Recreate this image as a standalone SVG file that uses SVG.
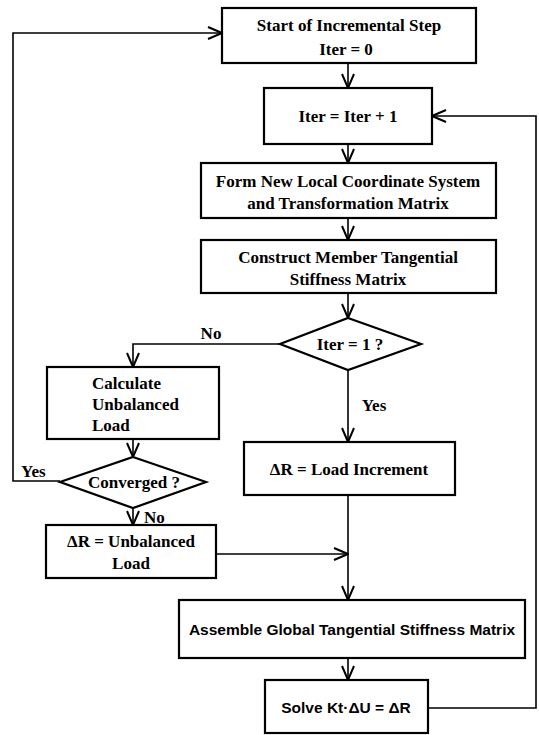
<svg xmlns="http://www.w3.org/2000/svg" width="539" height="735" viewBox="0 0 539 735">
<defs>
<marker id="arr" viewBox="0 0 16 14" refX="15" refY="7" markerWidth="16" markerHeight="14" markerUnits="userSpaceOnUse" orient="auto">
<path d="M1,1 L15,7 L1,13" fill="none" stroke="#000" stroke-width="2"/>
</marker>
<style>
.box{fill:#fff;stroke:#000;stroke-width:2.2}
.ln{fill:none;stroke:#000;stroke-width:1.6}
.t{font-family:"Liberation Serif","Times New Roman",serif;font-weight:bold;font-size:17px;fill:#000;text-anchor:middle}
.s{font-family:"Liberation Sans",Arial,sans-serif;font-weight:bold;font-size:15.5px;fill:#000;text-anchor:middle}
.l{text-anchor:start}
</style>
</defs>
<rect width="539" height="735" fill="#fff"/>
<g id="connectors">
<polyline class="ln" points="60,481 13,481 13,33 222,33" marker-end="url(#arr)"/>
<line class="ln" x1="348" y1="63" x2="348" y2="88" marker-end="url(#arr)"/>
<polyline class="ln" points="428,708 536,708 536,116 432,116" marker-end="url(#arr)"/>
<line class="ln" x1="348" y1="144" x2="348" y2="163" marker-end="url(#arr)"/>
<line class="ln" x1="348" y1="218" x2="348" y2="240" marker-end="url(#arr)"/>
<line class="ln" x1="348" y1="293" x2="348" y2="318" marker-end="url(#arr)"/>
<polyline class="ln" points="280,344 133,344 133,367" marker-end="url(#arr)"/>
<line class="ln" x1="348" y1="370" x2="348" y2="442" marker-end="url(#arr)"/>
<line class="ln" x1="133" y1="439" x2="133" y2="457" marker-end="url(#arr)"/>
<line class="ln" x1="133" y1="508" x2="133" y2="525" marker-end="url(#arr)"/>
<line class="ln" x1="216" y1="554" x2="348" y2="554" marker-end="url(#arr)"/>
<line class="ln" x1="348" y1="495" x2="348" y2="600" marker-end="url(#arr)"/>
<line class="ln" x1="348" y1="658" x2="348" y2="680" marker-end="url(#arr)"/>
<text class="t" x="211" y="339">No</text>
<text class="t" x="374" y="411">Yes</text>
<text class="t l" x="21" y="477">Yes</text>
<text class="t l" x="144" y="523">No</text>
</g>
<g id="start">
<rect class="box" x="222" y="8" width="254" height="55"/>
<text class="t" x="349" y="31">Start of Incremental Step</text>
<text class="t" x="346" y="55">Iter = 0</text>
</g>
<g id="iter">
<rect class="box" x="264" y="88" width="168" height="56"/>
<text class="t" x="348" y="122">Iter = Iter + 1</text>
</g>
<g id="form">
<rect class="box" x="201" y="163" width="295" height="55"/>
<text class="t" x="348" y="187">Form New Local Coordinate System</text>
<text class="t" x="348" y="209">and Transformation Matrix</text>
</g>
<g id="construct">
<rect class="box" x="201" y="240" width="295" height="53"/>
<text class="t" x="348" y="263">Construct Member Tangential</text>
<text class="t" x="348" y="285">Stiffness Matrix</text>
</g>
<g id="iter1">
<polygon class="box" points="348,318 421,344 348,370 280,344"/>
<text class="t" x="350" y="350">Iter = 1 ?</text>
</g>
<g id="calc">
<rect class="box" x="47" y="367" width="172" height="72"/>
<text class="t l" x="92" y="389">Calculate</text>
<text class="t l" x="92" y="410">Unbalanced</text>
<text class="t l" x="92" y="431">Load</text>
</g>
<g id="converged">
<polygon class="box" points="133,457 206,482 133,508 60,482"/>
<text class="t" x="134" y="488">Converged ?</text>
</g>
<g id="unbal">
<rect class="box" x="46" y="525" width="170" height="53"/>
<text class="t" x="131" y="547">ΔR = Unbalanced</text>
<text class="t" x="131" y="569">Load</text>
</g>
<g id="loadinc">
<rect class="box" x="244" y="442" width="211" height="53"/>
<text class="t" x="349" y="475">ΔR = Load Increment</text>
</g>
<g id="assemble">
<rect class="box" x="179" y="600" width="346" height="58"/>
<text class="s" x="352" y="635">Assemble Global Tangential Stiffness Matrix</text>
</g>
<g id="solve">
<rect class="box" x="265" y="680" width="163" height="53"/>
<text class="s" x="346" y="713">Solve Kt·ΔU = ΔR</text>
</g>
</svg>
